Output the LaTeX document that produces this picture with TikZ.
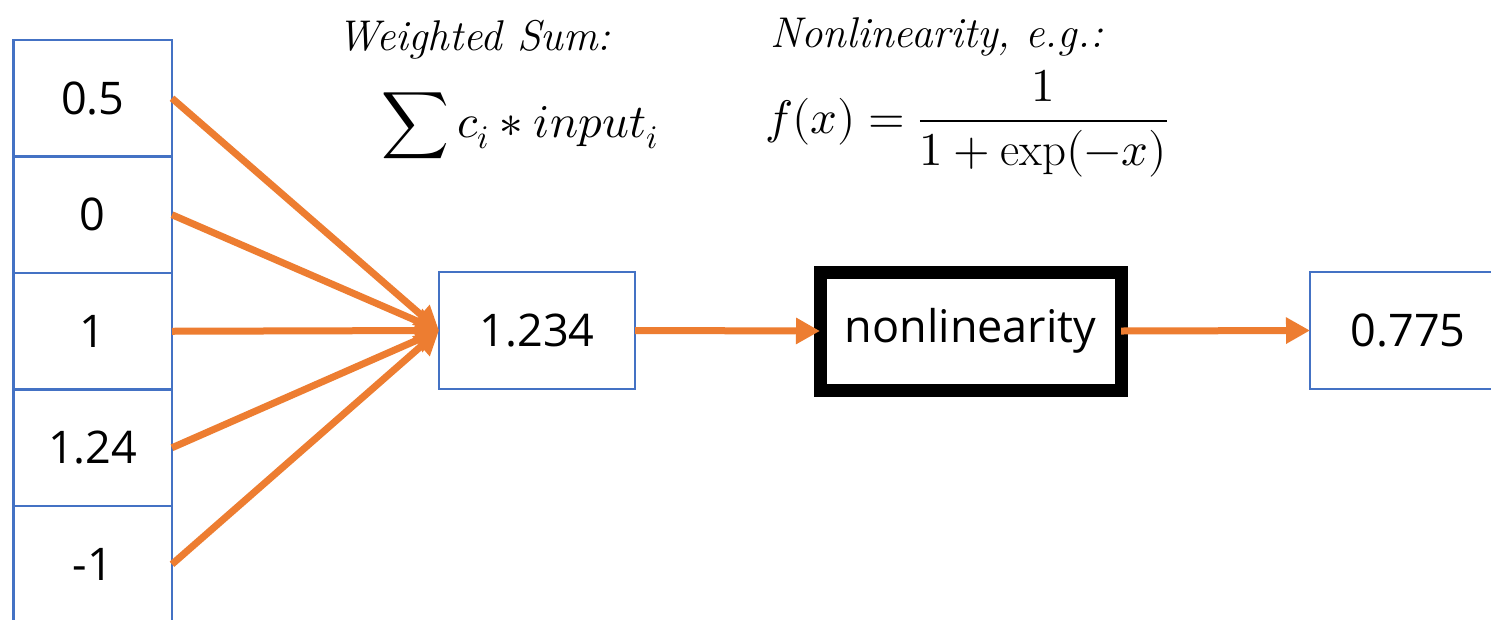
\documentclass[tikz,border=0pt]{standalone}
\usepackage{amsmath}
\usepackage{fontspec}
\usepackage{unicode-math}
\setmainfont{Open Sans}
\setmathfont{Latin Modern Math}
\setmathrm{Latin Modern Roman}
\newfontfamily\lmserif{Latin Modern Roman}
\usetikzlibrary{arrows.meta}
\definecolor{boxblue}{HTML}{4472C4}
\definecolor{arrorange}{HTML}{ED7D31}
\tikzset{
  valbox/.style={draw=boxblue, line width=2.5pt, fill=white, outer sep=0pt, inner sep=0pt,
    font=\fontsize{45}{54}\selectfont, text=black},
  inbox/.style={valbox, minimum width=158.5pt, minimum height=116.5pt},
  midbox/.style={valbox, minimum width=196pt, minimum height=117pt},
  nlbox/.style={draw=black, line width=13pt, fill=white, outer sep=0pt, inner sep=0pt,
    minimum width=301pt, minimum height=118pt, font=\fontsize{45}{54}\selectfont},
  conn/.style={draw=arrorange, line width=7pt, -{Triangle[length=24pt,width=25pt]}},
  lbl/.style={font=\lmserif\itshape\fontsize{43}{50}\selectfont, inner sep=0pt},
  formula/.style={font=\fontsize{47}{56}\selectfont, inner sep=0pt}
}
\begin{document}
\begin{tikzpicture}[x=1pt,y=-1pt]
\useasboundingbox (0,0) rectangle (1491,619);
\clip (0,0) rectangle (1491,619);
\fill[white] (0,0) rectangle (1491,619);
% input column
\node[inbox] (in1) at (92.75,98.25) {0.5};
\node[inbox] (in2) at (92.75,214.75) {0};
\node[inbox] (in3) at (92.75,331.25) {1};
\node[inbox] (in4) at (92.75,447.75) {1.24};
\node[inbox] (in5) at (92.75,564.25) {-1};
% main chain
\node[midbox] (sum) at (537,330.5) {1.234};
\node[nlbox] (nl) at (970.5,331) {nonlinearity};
\node[midbox] (out) at (1408,330.5) {0.775};
% connectors
\foreach \i in {1,...,5} {\draw[conn] (in\i.east) -- (sum.west);}
\draw[conn] (sum.east) -- (nl.west);
\draw[conn] (nl.east) -- (out.west);
% labels
\node[lbl, anchor=base] (wlbl) at (474,50) {Weighted Sum:};
\node[formula, anchor=base] (wsum) at (520,137) {$\displaystyle\sum c_i * input_i$};
\node[lbl, anchor=base west] (nlbl) at (770,47) {Nonlinearity, e.g.:};
\node[formula, anchor=base west] (nlf) at (765,133) {$\displaystyle f(x)=\frac{1}{1+\exp(-x)}$};
\end{tikzpicture}
\end{document}
